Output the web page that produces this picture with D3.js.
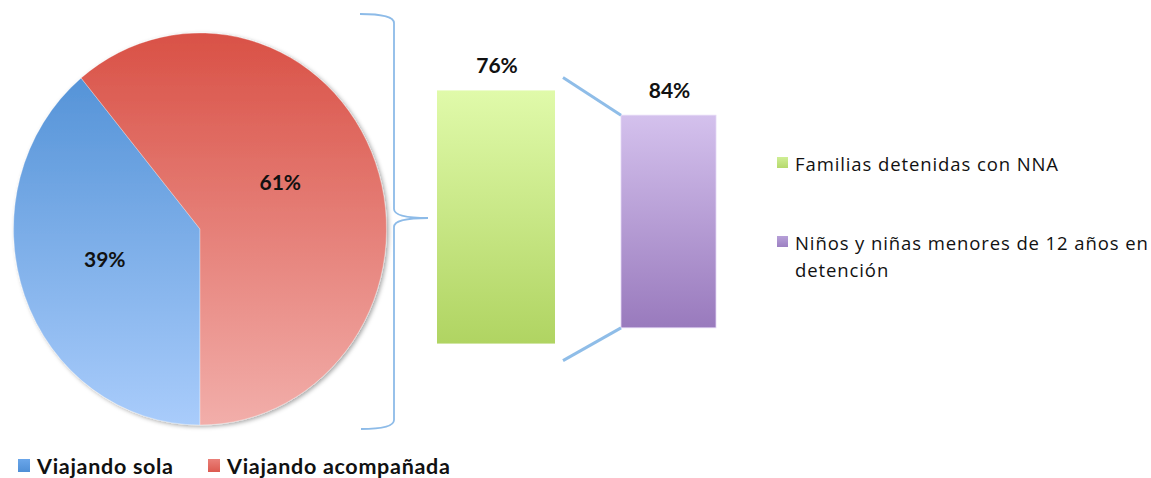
<!DOCTYPE html>
<html>
<head>
<meta charset="utf-8">
<script src="https://cdn.jsdelivr.net/npm/d3@7/dist/d3.min.js"></script>
<style>
  html, body { margin: 0; padding: 0; background: #fff; }
  svg { display: block; }
  text { font-family: "Open Sans", "Lato", sans-serif; fill: #111; }
  .bold { font-family: "Lato", "Open Sans", sans-serif; font-weight: bold; }
</style>
</head>
<body>
<svg id="chart" width="1151" height="478"></svg>
<script>
// Travel status of detained women (pie)
const pieCategories = ["Viajando sola", "Viajando acompañada"];
const pieValues = [39, 61];

// Breakdown of the accompanied group (bars)
const barCategories = ["Familias detenidas con NNA", "Niños y niñas menores de 12 años en detención"];
const barValues = [76, 84];

const svg = d3.select("#chart");
const defs = svg.append("defs");

function vGrad(id, top, bottom, units, y1, y2) {
  const g = defs.append("linearGradient").attr("id", id)
    .attr("x1", 0).attr("x2", 0);
  if (units) {
    g.attr("gradientUnits", "userSpaceOnUse").attr("y1", y1).attr("y2", y2);
  } else {
    g.attr("y1", 0).attr("y2", 1);
  }
  g.append("stop").attr("offset", "0%").attr("stop-color", top);
  g.append("stop").attr("offset", "100%").attr("stop-color", bottom);
}

// ---- Pie (slightly taller than wide) ----
const cx = 200, cy = 229, rx = 186.5, ry = 196;
const sy = ry / rx;

vGrad("gBlue", "#4a8cd3", "#a9ccfb", true, -rx, rx);
vGrad("gRed", "#d95146", "#f2aeaa", true, -rx, rx);
vGrad("gGreen", "#e0faaa", "#b0d462");
vGrad("gPurple", "#d4c1ed", "#997abd");
vGrad("gBlueKey", "#6aa6ea", "#4f8fd6");
vGrad("gRedKey", "#ea8079", "#dc5a50");
vGrad("gGreenKey", "#cfee95", "#b5d96c");
vGrad("gPurpleKey", "#b7a0d8", "#9c80c2");

const shadow = defs.append("filter").attr("id", "pieShadow")
  .attr("x", "-10%").attr("y", "-10%").attr("width", "125%").attr("height", "125%");
shadow.append("feDropShadow").attr("dx", 2).attr("dy", 1.5)
  .attr("stdDeviation", 2).attr("flood-color", "#000").attr("flood-opacity", 0.35);

const pieFills = ["url(#gBlue)", "url(#gRed)"];
const keyFills = ["url(#gBlueKey)", "url(#gRedKey)"];

const pie = d3.pie().sort(null).startAngle(Math.PI).endAngle(3 * Math.PI);
const arcs = pie(pieValues);
const arc = d3.arc().innerRadius(0).outerRadius(rx);
const labelArc = d3.arc().innerRadius(rx * 0.52).outerRadius(rx * 0.52);
// best-fit nudges for the slice labels
const labelNudge = [[-4, -4], [-11, -12]];

const pieG = svg.append("g")
  .attr("transform", `translate(${cx},${cy}) scale(1,${sy})`)
  .attr("filter", "url(#pieShadow)");
pieG.selectAll("path").data(arcs).join("path")
  .attr("d", arc)
  .attr("fill", (d, i) => pieFills[i])
  .attr("stroke", "rgba(255,255,255,0.5)")
  .attr("stroke-width", 0.6);

svg.append("g").selectAll("text").data(arcs).join("text")
  .attr("class", "bold")
  .attr("x", (d, i) => cx + labelArc.centroid(d)[0] + labelNudge[i][0])
  .attr("y", (d, i) => cy + labelArc.centroid(d)[1] * sy + labelNudge[i][1])
  .attr("dy", "0.35em")
  .attr("text-anchor", "middle")
  .attr("font-size", 21)
  .text(d => d.data + "%");

// ---- Brace linking the pie to the bars ----
const braceTop = 14, braceBottom = 429, braceX = 394, braceTip = 428, braceMid = 218;
const bp = d3.path();
bp.moveTo(360, braceTop);
bp.quadraticCurveTo(braceX, braceTop, braceX, braceTop + 9);
bp.lineTo(braceX, braceMid - 9);
bp.quadraticCurveTo(braceX, braceMid, braceTip, braceMid);
bp.moveTo(braceTip, braceMid);
bp.quadraticCurveTo(braceX, braceMid, braceX, braceMid + 9);
bp.lineTo(braceX, braceBottom - 9);
bp.quadraticCurveTo(braceX, braceBottom, 361, braceBottom);
svg.append("path").attr("d", bp.toString())
  .attr("fill", "none").attr("stroke", "#8dbbe8").attr("stroke-width", 1.8);

// ---- Bars: each stage is a share of the one before ----
const span = braceBottom - braceTop;
const shareOfBrace = d3.scaleLinear().domain([0, 100]).range([0, span]);
const greenH = shareOfBrace(pieValues[1]);
const shareOfGreen = d3.scaleLinear().domain([0, 100]).range([0, greenH]);
const purpleH = shareOfGreen(barValues[1]);

const bars = [
  { x: 437, w: 118, h: greenH, mid: 217, fill: "url(#gGreen)" },
  { x: 621, w: 95, h: purpleH, mid: 221.5, fill: "url(#gPurple)" }
];
bars.forEach((b, i) => {
  b.top = b.mid - b.h / 2;
  b.bottom = b.mid + b.h / 2;
  svg.append("rect")
    .attr("x", b.x).attr("y", b.top).attr("width", b.w).attr("height", b.h)
    .attr("fill", b.fill)
    .attr("stroke", i === 1 ? "#e4d8f4" : "none").attr("stroke-width", 0.8);
  svg.append("text")
    .attr("class", "bold")
    .attr("x", b.x + b.w / 2 + 1).attr("y", b.top - 17)
    .attr("text-anchor", "middle")
    .attr("font-size", 21)
    .text(barValues[i] + "%");
});

// Connector lines from the green bar to the purple one
const g0 = bars[0], p0 = bars[1];
const lineStartX = g0.x + g0.w + 8;
svg.append("line")
  .attr("x1", lineStartX).attr("y1", g0.top - 13)
  .attr("x2", p0.x).attr("y2", p0.top)
  .attr("stroke", "#8fbde8").attr("stroke-width", 3);
svg.append("line")
  .attr("x1", lineStartX).attr("y1", g0.bottom + 17)
  .attr("x2", p0.x).attr("y2", p0.bottom)
  .attr("stroke", "#8fbde8").attr("stroke-width", 3);

// ---- Legend for the bars ----
const barKeys = ["url(#gGreenKey)", "url(#gPurpleKey)"];
const barLegendY = [171, 250];
barCategories.forEach((c, i) => {
  const y = barLegendY[i];
  svg.append("rect").attr("x", 777).attr("y", y - 14).attr("width", 11).attr("height", 11)
    .attr("fill", barKeys[i]);
  const t = svg.append("text").attr("x", 795).attr("y", y)
    .attr("font-size", 18.5).attr("letter-spacing", 0.9);
  if (i === 1) {
    t.append("tspan").attr("x", 795).text("Niños y niñas menores de 12 años en");
    t.append("tspan").attr("x", 795).attr("dy", 27).text("detención");
  } else {
    t.text(c);
  }
});

// ---- Legend for the pie ----
const pieLegendX = [18, 208];
pieCategories.forEach((c, i) => {
  svg.append("rect").attr("x", pieLegendX[i]).attr("y", 459).attr("width", 12).attr("height", 13)
    .attr("fill", keyFills[i]);
  svg.append("text").attr("class", "bold").attr("x", pieLegendX[i] + 19).attr("y", 474)
    .attr("font-size", 21.5).attr("letter-spacing", 0.7)
    .text(c);
});
</script>
</body>
</html>
